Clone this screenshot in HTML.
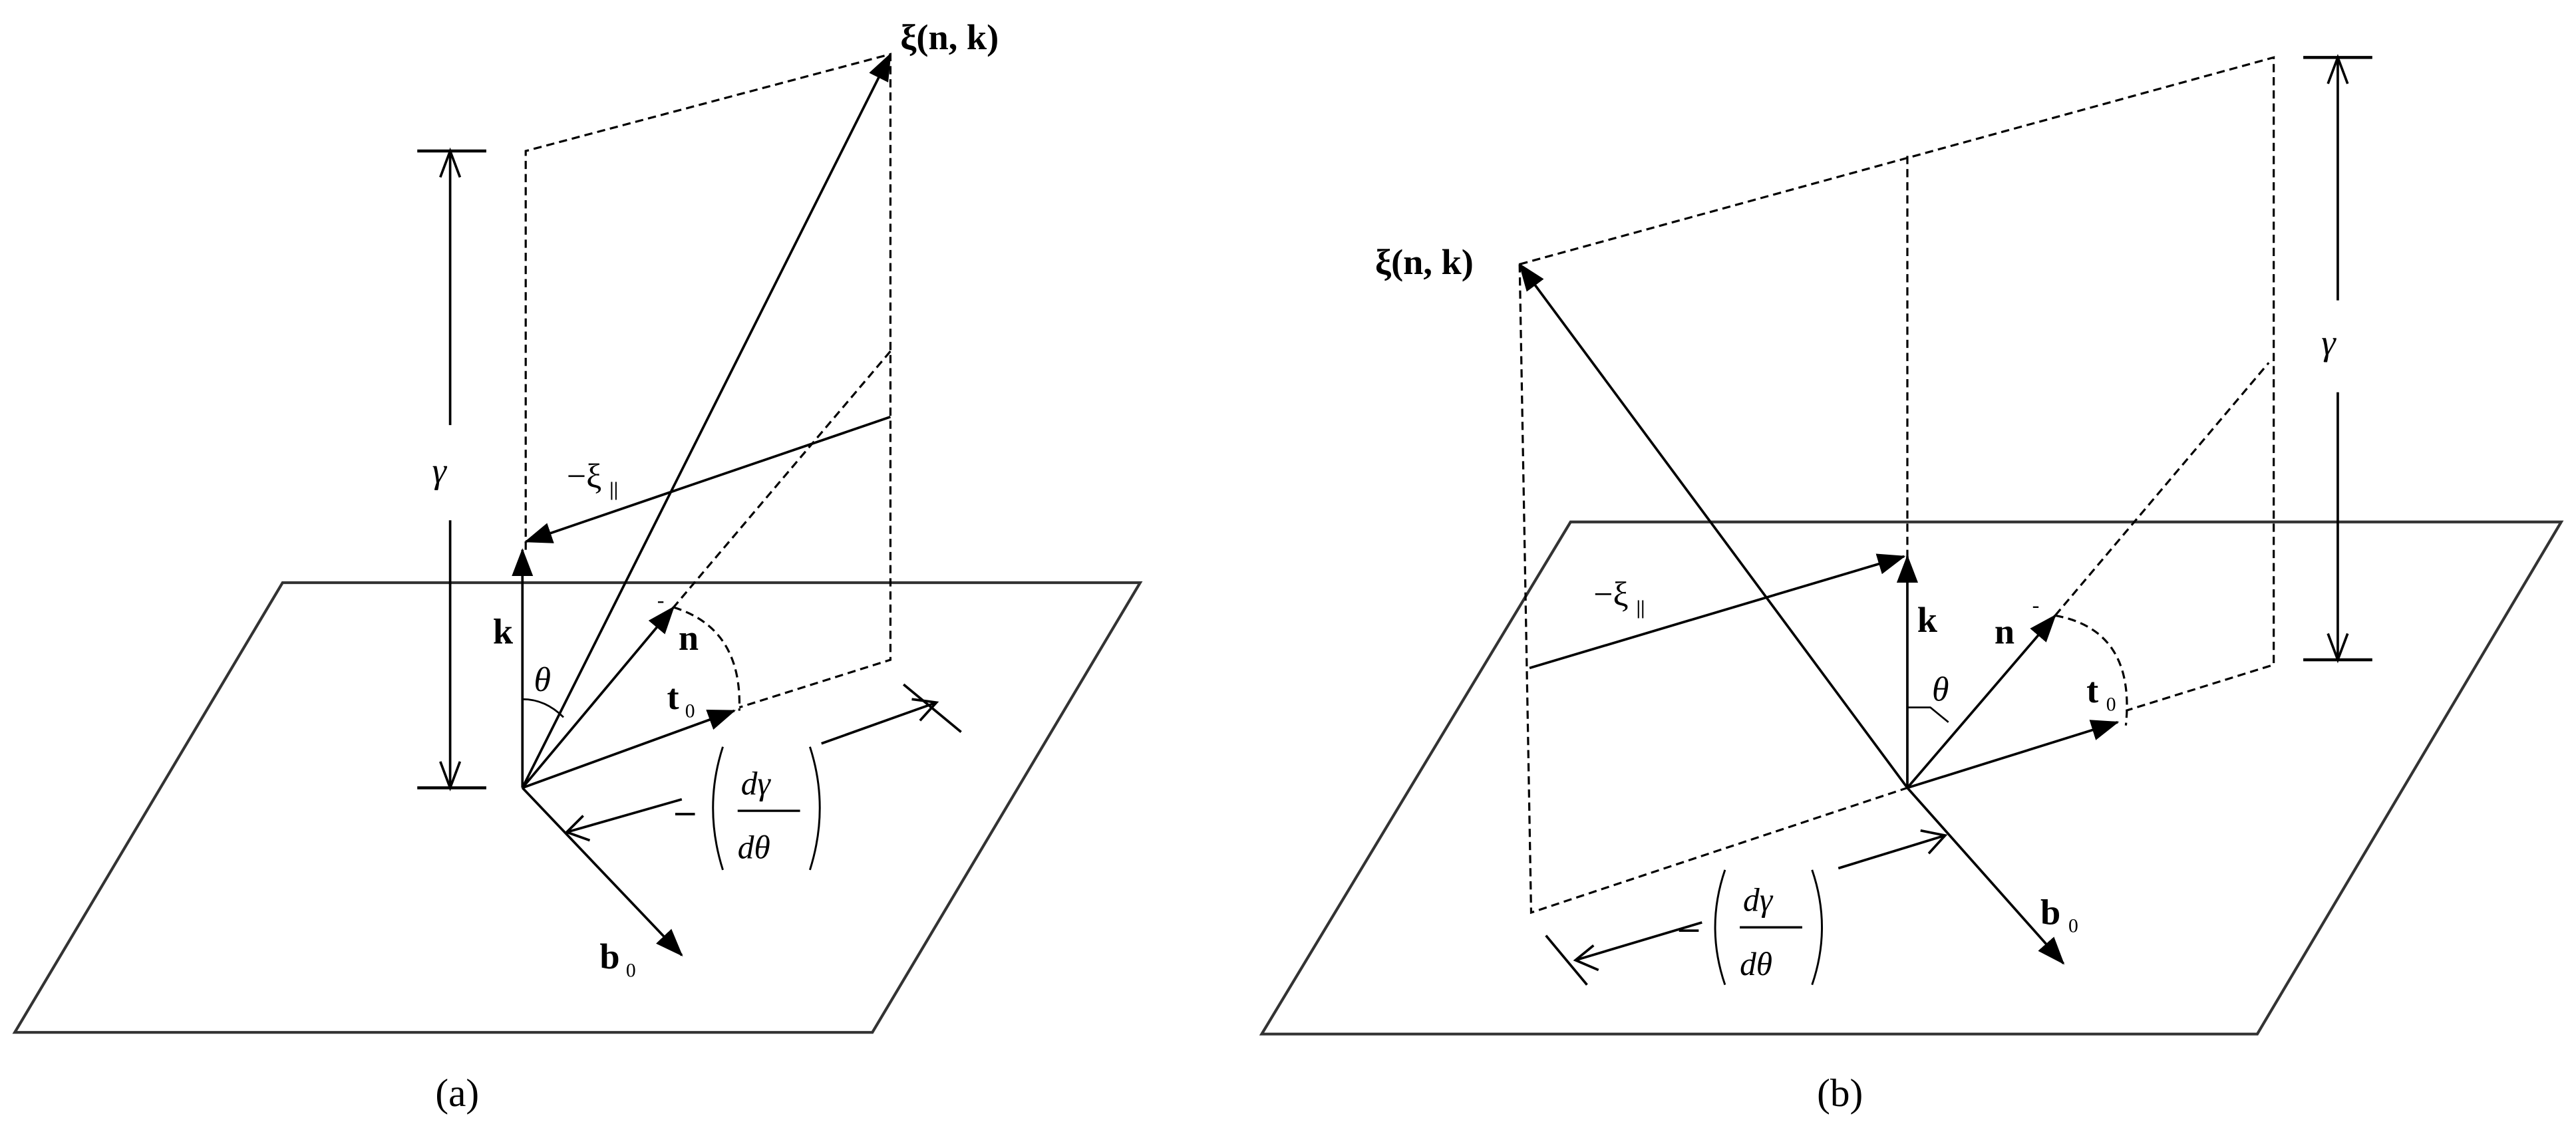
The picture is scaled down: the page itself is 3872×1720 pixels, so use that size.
<!DOCTYPE html>
<html><head><meta charset="utf-8">
<style>
html,body{margin:0;padding:0;background:#fff;}
svg{display:block;}
text{font-family:"Liberation Serif",serif;fill:#000;}
.b{font-weight:bold;}
.i{font-style:italic;}
</style></head>
<body>
<svg id="s" width="3872" height="1720" viewBox="0 0 1568 697" preserveAspectRatio="none" xmlns="http://www.w3.org/2000/svg">
<defs>
<marker id="ah" markerUnits="userSpaceOnUse" markerWidth="17" markerHeight="13" refX="16" refY="6.5" orient="auto">
<path d="M0,0 L17,6.5 L0,13 z" fill="#000"/>
</marker>
</defs>
<g fill="none" stroke="#000" stroke-width="1.5">
<!-- (a) plane -->
<path d="M172,355 L694,355 L531,629 L9,629 Z" stroke="#333" stroke-width="1.7"/>
<!-- (a) dashed -->
<g stroke-dasharray="5 3" stroke-width="1.3">
<path d="M320,335 L320,92 L542,33 L542,402 L450,431"/>
<path d="M542,214 L410,370"/>
<path d="M410,370 Q452,383 450,433"/>
</g>
<!-- (a) vectors -->
<line x1="318" y1="480" x2="318" y2="335" marker-end="url(#ah)"/>
<line x1="318" y1="480" x2="542" y2="33" marker-end="url(#ah)"/>
<line x1="542" y1="254" x2="320" y2="330" marker-end="url(#ah)"/>
<line x1="318" y1="480" x2="410" y2="370" marker-end="url(#ah)"/>
<line x1="318" y1="480" x2="447" y2="433" marker-end="url(#ah)"/>
<line x1="318" y1="480" x2="415" y2="582" marker-end="url(#ah)"/>
<path d="M318,426 Q332,426 343,437" stroke-width="1.1"/>
<!-- (a) gamma -->
<line x1="274" y1="92" x2="274" y2="259"/>
<line x1="274" y1="317" x2="274" y2="480"/>
<line x1="254" y1="92" x2="296" y2="92" stroke-width="1.8"/>
<line x1="254" y1="480" x2="296" y2="480" stroke-width="1.8"/>
<path d="M268,108 L274,92 L280,108"/>
<path d="M268,464 L274,480 L280,464"/>
<!-- (a) dgamma dims -->
<line x1="415" y1="487" x2="345" y2="507"/>
<path d="M359,512 L345,507 L355,497"/>
<line x1="500" y1="453" x2="570" y2="428"/>
<path d="M555,426 L570,428 L560,439"/>
<line x1="550" y1="417" x2="585" y2="446"/>
<path d="M440,455 Q428,492 440,530" stroke-width="1.2"/>
<path d="M493,455 Q505,492 493,530" stroke-width="1.2"/>
<line x1="449" y1="494" x2="487" y2="494" stroke-width="1.4"/>
<line x1="411" y1="496" x2="423" y2="496" stroke-width="1.5"/>

<!-- (b) plane -->
<path d="M956,318 L1559,318 L1374,630 L768,630 Z" stroke="#333" stroke-width="1.7"/>
<!-- (b) dashed -->
<g stroke-dasharray="5 3" stroke-width="1.3">
<path d="M925,161 L1384,35 L1384,405 L1294,433"/>
<path d="M1161,95 L1161,339"/>
<path d="M925,161 L932,556 L1161,480"/>
<path d="M1251,375 L1381,221"/>
<path d="M1251,375 Q1300,384 1294,442"/>
</g>
<!-- (b) vectors -->
<line x1="1161" y1="480" x2="1161" y2="339" marker-end="url(#ah)"/>
<line x1="1161" y1="480" x2="925" y2="161" marker-end="url(#ah)"/>
<line x1="931" y1="407" x2="1159" y2="339" marker-end="url(#ah)"/>
<line x1="1161" y1="480" x2="1251" y2="375" marker-end="url(#ah)"/>
<line x1="1161" y1="480" x2="1289" y2="440" marker-end="url(#ah)"/>
<line x1="1161" y1="480" x2="1256" y2="587" marker-end="url(#ah)"/>
<path d="M1161,431 L1175,431 L1186,440" stroke-width="1.1"/>
<!-- (b) gamma -->
<line x1="1423" y1="35" x2="1423" y2="183"/>
<line x1="1423" y1="239" x2="1423" y2="402"/>
<line x1="1402" y1="35" x2="1444" y2="35" stroke-width="1.8"/>
<line x1="1402" y1="402" x2="1444" y2="402" stroke-width="1.8"/>
<path d="M1417,51 L1423,35 L1429,51"/>
<path d="M1417,386 L1423,402 L1429,386"/>
<!-- (b) dgamma dims -->
<line x1="1119" y1="529" x2="1184" y2="509"/>
<path d="M1169,506 L1184,509 L1174,520"/>
<line x1="1036" y1="562" x2="959" y2="585"/>
<path d="M973,591 L959,585 L970,576"/>
<line x1="941" y1="570" x2="966" y2="600"/>
<path d="M1050,530 Q1038,565 1050,600" stroke-width="1.2"/>
<path d="M1103,530 Q1115,565 1103,600" stroke-width="1.2"/>
<line x1="1059" y1="565" x2="1097" y2="565" stroke-width="1.4"/>
<line x1="1022" y1="567" x2="1034" y2="567" stroke-width="1.5"/>
</g>

<!-- labels (a) -->
<text x="548" y="30" font-size="22" class="b">ξ(n, k)</text>
<text x="263" y="294" font-size="22" class="i">γ</text>
<text x="345" y="297" font-size="21">−ξ</text>
<text x="371" y="302" font-size="12" class="b">||</text>
<text x="300" y="392" font-size="22" class="b">k</text>
<text x="413" y="396" font-size="22" class="b">n</text>
<text x="400" y="370" font-size="13">-</text>
<text x="325" y="421" font-size="21" class="i">θ</text>
<text x="406" y="432" font-size="22" class="b">t</text>
<text x="417" y="437" font-size="12">0</text>
<text x="365" y="590" font-size="22" class="b">b</text>
<text x="381" y="595" font-size="12">0</text>
<text x="451" y="484" font-size="20" class="i">dγ</text>
<text x="449" y="523" font-size="20" class="i">dθ</text>
<text x="265" y="674" font-size="24">(a)</text>

<!-- labels (b) -->
<text x="837" y="167" font-size="22" class="b">ξ(n, k)</text>
<text x="1413" y="216" font-size="22" class="i">γ</text>
<text x="970" y="369" font-size="21">−ξ</text>
<text x="996" y="374" font-size="12" class="b">||</text>
<text x="1167" y="385" font-size="22" class="b">k</text>
<text x="1214" y="392" font-size="22" class="b">n</text>
<text x="1237" y="373" font-size="13">-</text>
<text x="1176" y="427" font-size="21" class="i">θ</text>
<text x="1270" y="428" font-size="22" class="b">t</text>
<text x="1282" y="433" font-size="12">0</text>
<text x="1242" y="563" font-size="22" class="b">b</text>
<text x="1259" y="568" font-size="12">0</text>
<text x="1061" y="555" font-size="20" class="i">dγ</text>
<text x="1059" y="594" font-size="20" class="i">dθ</text>
<text x="1106" y="674" font-size="24">(b)</text>
</svg>
</body></html>
